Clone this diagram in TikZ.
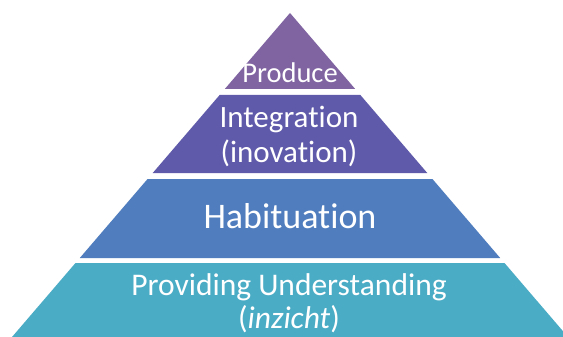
\documentclass[tikz,border=0pt]{standalone}
\usepackage{fontspec}
\setmainfont[Ligatures={NoCommon}]{Carlito}

\definecolor{prodcol}{RGB}{128,100,162}
\definecolor{integcol}{RGB}{96,90,170}
\definecolor{habitcol}{RGB}{79,125,190}
\definecolor{undercol}{RGB}{75,172,198}

% one band of the pyramid: top y, bottom y, colour
\newcommand{\pyrband}[3]{%
  \pgfmathsetmacro{\wtop}{(#1-13)*0.858}
  \pgfmathsetmacro{\wbot}{(#2-13)*0.858}
  \fill[#3] (290-\wtop,#1) -- (290+\wtop,#1) -- (290+\wbot,#2) -- (290-\wbot,#2) -- cycle;
}

\begin{document}
\begin{tikzpicture}[x=1pt,y=-1pt,
    bandtext/.style={text=white,anchor=base,inner sep=0pt}]
    \clip (0,0) rectangle (563,337);
    \fill[white] (0,0) rectangle (563,337);

    \pyrband{13}{89}{prodcol}
    \pyrband{95}{173}{integcol}
    \pyrband{179}{258}{habitcol}
    \pyrband{263}{337}{undercol}

    \node[bandtext,font=\fontsize{28.5}{32}\selectfont] (produce) at (290,83) {Produce};
    \node[bandtext,font=\fontsize{31}{35}\selectfont] (integ) at (289,128) {Integration};
    \node[bandtext,font=\fontsize{31}{35}\selectfont] (inov) at (289,163) {(inovation)};
    \node[bandtext,font=\fontsize{36}{40}\selectfont] (habit) at (290,228) {Habituation};
    \node[bandtext,font=\fontsize{31.5}{35}\selectfont] (under) at (289,295) {Providing Understanding};
    \node[bandtext,font=\fontsize{31.5}{35}\selectfont] (inzicht) at (289,328) {(\textit{inzicht})};
\end{tikzpicture}
\end{document}
